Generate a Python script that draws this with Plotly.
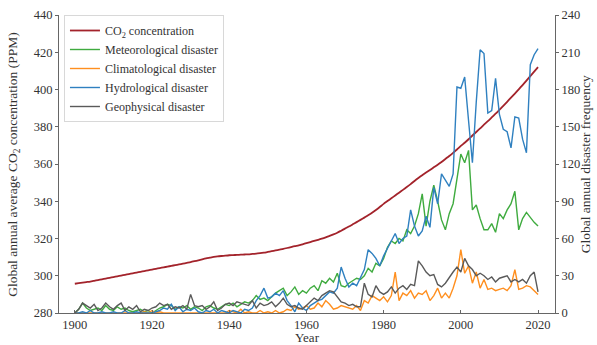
import plotly.graph_objects as go

years = list(range(1900, 2021))

# Global annual average CO2 concentration (ppm)
co2 = [
    295.7, 296.0, 296.3, 296.6, 296.9, 297.3, 297.7, 298.1, 298.5, 298.9,
    299.3, 299.7, 300.1, 300.5, 300.9, 301.3, 301.7, 302.1, 302.5, 302.9,
    303.3, 303.7, 304.1, 304.5, 304.9, 305.3, 305.7, 306.1, 306.5, 306.9,
    307.3, 307.8, 308.3, 308.8, 309.3, 309.7, 310.1, 310.4, 310.6, 310.8,
    311.0, 311.1, 311.2, 311.3, 311.4, 311.5, 311.7, 311.9, 312.1, 312.4,
    312.8, 313.2, 313.6, 314.0, 314.4, 314.9, 315.4, 315.9, 316.3, 316.9,
    317.5, 318.1, 318.7, 319.3, 319.9, 320.6, 321.4, 322.2, 323.1, 324.2,
    325.3, 326.4, 327.6, 328.8, 330.0, 331.2, 332.5, 333.8, 335.3, 336.9,
    338.6, 340.1, 341.6, 343.1, 344.6, 346.1, 347.6, 349.2, 350.9, 352.5,
    354.0, 355.4, 356.8, 358.2, 359.6, 361.1, 362.7, 364.3, 366.0, 367.8,
    369.7, 371.4, 373.3, 375.3, 377.2, 379.1, 381.1, 383.0, 385.0, 387.0,
    389.1, 391.2, 393.4, 395.6, 397.8, 400.1, 402.4, 404.8, 407.2, 409.6,
    412.0,
]

# Annual number of disasters by type
meteorological = [
    0, 3, 8, 4, 2, 3, 4, 2, 6, 3,
    2, 5, 3, 4, 2, 1, 2, 3, 1, 2,
    0, 2, 4, 5, 7, 6, 3, 5, 4, 6,
    3, 5, 4, 2, 5, 6, 4, 3, 5, 7,
    6, 8, 5, 7, 9, 8, 10, 14, 11, 12,
    10, 13, 16, 18, 20, 14, 17, 21, 15, 18,
    16, 20, 22, 18, 26, 24, 28, 25, 32, 22,
    21, 24, 26, 28, 27, 30, 36, 33, 40, 38,
    44, 53, 58, 56, 60, 58, 67, 64, 70, 80,
    96, 70, 90, 103, 90, 75, 67, 80, 88, 110,
    128, 121, 131, 83, 87, 76, 67, 67, 72, 65,
    80, 76, 83, 88, 98, 67, 76, 81, 77, 73,
    70,
]

climatological = [
    0, 0, 0, 0, 0, 0, 0, 0, 0, 0,
    0, 0, 0, 0, 0, 0, 0, 0, 1, 0,
    2, 0, 1, 0, 0, 0, 0, 0, 0, 0,
    0, 0, 0, 0, 0, 0, 0, 0, 0, 0,
    2, 1, 0, 3, 0, 1, 0, 0, 2, 0,
    1, 0, 2, 0, 1, 3, 2, 5, 3, 4,
    6, 3, 4, 8, 5, 10, 7, 3, 4, 6,
    5, 4, 3, 6, 2, 10, 8, 14, 12, 10,
    13, 9, 14, 33, 10, 16, 14, 18, 12, 16,
    15, 18, 10, 14, 20, 12, 16, 12, 20, 30,
    51, 32, 38, 24, 33, 20, 27, 19, 20, 18,
    19, 20, 18, 22, 35, 19, 20, 22, 21, 18,
    15,
]

hydrological = [
    0, 0, 1, 0, 2, 0, 0, 1, 0, 0,
    1, 0, 0, 2, 0, 0, 1, 0, 0, 0,
    0, 1, 2, 4, 3, 7, 2, 5, 1, 3,
    2, 4, 1, 0, 2, 1, 3, 0, 2, 1,
    0, 2, 1, 0, 3, 2, 4, 10, 14, 20,
    12, 13, 16, 14, 18, 10, 6, 1, 8, 4,
    2, 6, 8, 10, 11, 14, 17, 16, 20, 37,
    28, 21, 24, 22, 28, 35, 51, 48, 44, 38,
    46, 52, 59, 64, 56, 60, 62, 83, 70, 62,
    66, 78, 69, 101, 88, 112, 107, 102, 112, 182,
    181, 190, 155, 121, 170, 212, 209, 161, 163, 189,
    160, 148, 146, 133, 158, 157, 140, 129, 200, 208,
    213,
]

geophysical = [
    0, 3, 8, 6, 4, 7, 2, 4, 8, 5,
    3, 6, 8, 2, 5, 3, 6, 1, 3, 2,
    4, 5, 8, 6, 7, 3, 5, 4, 6, 3,
    15, 6, 5, 6, 3, 5, 9, 2, 4, 7,
    8, 6, 9, 8, 7, 6, 10, 4, 8, 6,
    7, 9, 5, 8, 12, 7, 5, 6, 4, 3,
    6, 9, 12, 10, 14, 16, 18, 17, 13, 9,
    8, 6, 7, 5, 5, 24, 15, 13, 22, 17,
    15, 17, 21, 16, 20, 22, 19, 23, 22, 42,
    38, 33, 30, 31, 23, 21, 24, 29, 33, 37,
    33, 44, 38, 35, 30, 32, 30, 27, 29, 25,
    28, 29, 30, 25, 27, 25, 27, 24, 30, 33,
    17,
]

x_ticks = [1900, 1920, 1940, 1960, 1980, 2000, 2020]
left_ticks = [280, 300, 320, 340, 360, 380, 400, 420, 440]
right_ticks = [0, 30, 60, 90, 120, 150, 180, 210, 240]

FONT = "Liberation Serif"
AXIS_COLOR = "#666666"
TEXT_COLOR = "#333333"

fig = go.Figure()

disaster_series = [
    ("Meteorological disaster", meteorological, "#3fab3f"),
    ("Climatological disaster", climatological, "#ff8f1f"),
    ("Hydrological disaster", hydrological, "#2f80c0"),
    ("Geophysical disaster", geophysical, "#5a5a5a"),
]

fig.add_trace(go.Scatter(
    x=years, y=co2, mode="lines", name="CO<sub>2</sub> concentration",
    line=dict(color="#a3232b", width=1.8, shape="spline", smoothing=0.6),
    yaxis="y", legendrank=1,
))

for rank, (name, vals, color) in enumerate(disaster_series, start=2):
    fig.add_trace(go.Scatter(
        x=years, y=vals, mode="lines", name=name,
        line=dict(color=color, width=1.4), yaxis="y2", legendrank=rank,
    ))

axis_common = dict(
    showgrid=False, zeroline=False, showline=True, linecolor=AXIS_COLOR,
    linewidth=1.2, ticklen=3, tickcolor=AXIS_COLOR,
    tickfont=dict(family=FONT, size=12.5, color=TEXT_COLOR),
    automargin=False,
)

title_font = dict(family=FONT, size=13.5, color=TEXT_COLOR)

fig.update_layout(
    width=597, height=345,
    margin=dict(l=59, r=42, t=15, b=32),
    paper_bgcolor="white", plot_bgcolor="white",
    font=dict(family=FONT, color=TEXT_COLOR),
    xaxis=dict(range=[1895.9, 2024.4], tickvals=x_ticks, ticks="inside",
               **axis_common),
    yaxis=dict(range=[280, 440], tickvals=left_ticks, ticks="outside",
               **axis_common),
    yaxis2=dict(range=[0, 240], tickvals=right_ticks, overlaying="y",
                side="right", ticks="outside", **axis_common),
    legend=dict(
        x=0.01, y=1.0, xanchor="left", yanchor="top",
        bgcolor="white", bordercolor="#d8d8d8", borderwidth=1,
        font=dict(family=FONT, size=12, color=TEXT_COLOR),
        tracegroupgap=0, itemwidth=30,
    ),
    showlegend=True,
    annotations=[
        dict(text="Year", xref="paper", yref="paper", x=0.5, y=-0.083,
             xanchor="center", yanchor="middle", showarrow=False,
             font=dict(family=FONT, size=13, color=TEXT_COLOR)),
        dict(text="Global annual average CO<sub>2</sub> concentration (PPM)",
             xref="paper", yref="paper", x=-0.093, y=0.5, textangle=-90,
             xanchor="center", yanchor="middle", showarrow=False, font=title_font),
        dict(text="Global annual disaster frequency",
             xref="paper", yref="paper", x=1.061, y=0.5, textangle=-90,
             xanchor="center", yanchor="middle", showarrow=False, font=title_font),
    ],
)

fig.write_html("out.html")
